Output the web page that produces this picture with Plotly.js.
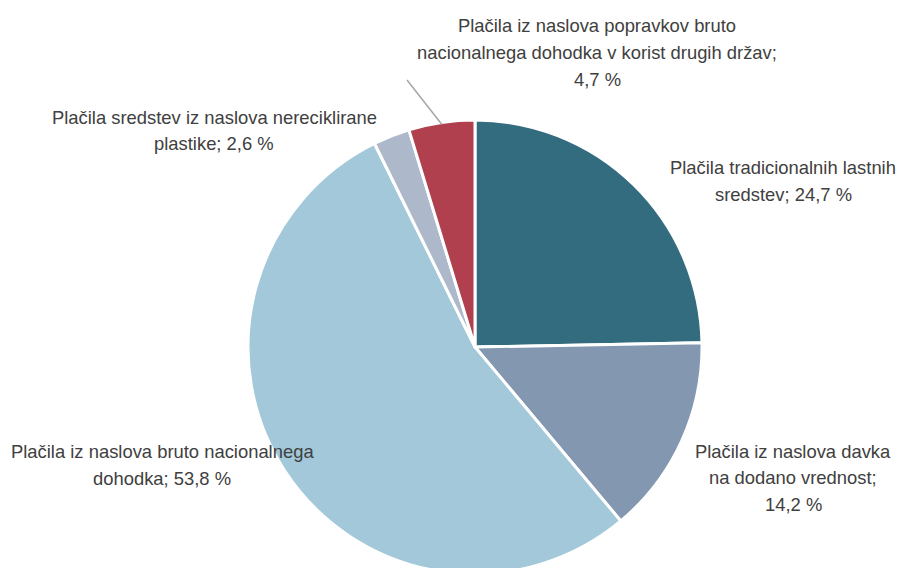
<!DOCTYPE html>
<html>
<head>
<meta charset="utf-8">
<script src="https://cdn.plot.ly/plotly-3.0.1.min.js"></script>
<style>
html,body{margin:0;padding:0;overflow:hidden;background:#fff;width:898px;height:568px;}
#chart{width:898px;height:800px;}
</style>
</head>
<body>
<div id="chart"></div>
<script>
// Data
const categories = [
  "Plačila tradicionalnih lastnih sredstev",
  "Plačila iz naslova davka na dodano vrednost",
  "Plačila iz naslova bruto nacionalnega dohodka",
  "Plačila sredstev iz naslova nereciklirane plastike",
  "Plačila iz naslova popravkov bruto nacionalnega dohodka v korist drugih držav"
];
const values = [24.7, 14.2, 53.8, 2.6, 4.7];
const labelLines = [
  ["Plačila tradicionalnih lastnih", "sredstev; 24,7 %"],
  ["Plačila iz naslova davka", "na dodano vrednost;", "14,2 %"],
  ["Plačila iz naslova bruto nacionalnega", "dohodka; 53,8 %"],
  ["Plačila sredstev iz naslova nereciklirane", "plastike; 2,6 %"],
  ["Plačila iz naslova popravkov bruto", "nacionalnega dohodka v korist drugih držav;", "4,7 %"]
];
const colors = ["#336b7f", "#8497b0", "#a2c8d9", "#adb9ca", "#b0404d"];

// Layout geometry (pixels)
const W = 898, H = 800;
const cx = 475, cy = 347, R = 227;
const labelPos = [ [783, 168], [793, 451], [162, 452], [214, 117], [597, 26] ];
const lineGap = 26.6;
const px = (x) => x / W;
const py = (y) => 1 - y / H;

const trace = {
  type: "pie",
  values: values,
  labels: categories,
  sort: false,
  direction: "clockwise",
  rotation: 0,
  textinfo: "none",
  hoverinfo: "label+percent",
  marker: { colors: colors, line: { color: "#ffffff", width: 3 } },
  domain: { x: [px(cx - R), px(cx + R)], y: [py(cy + R), py(cy - R)] },
  showlegend: false
};

const annotations = [];
labelLines.forEach((lines, i) => {
  lines.forEach((t, j) => {
    annotations.push({
      xref: "paper", yref: "paper",
      x: px(labelPos[i][0]), y: py(labelPos[i][1] + j * lineGap),
      xanchor: "center", yanchor: "middle",
      text: t, showarrow: false,
      font: { family: "'Liberation Sans', Arial, sans-serif", size: 18.4, color: "#404040" }
    });
  });
});

// leader line for the small red slice (from label to slice midpoint)
const total = values.reduce((a, b) => a + b, 0);
const startFrac = values.slice(0, 4).reduce((a, b) => a + b, 0) / total;
const midAng = 2 * Math.PI * (startFrac + values[4] / total / 2);
const ex = cx + (R - 2) * Math.sin(midAng), ey = cy - (R - 2) * Math.cos(midAng);

const layout = {
  width: W, height: H,
  margin: { l: 0, r: 0, t: 0, b: 0 },
  paper_bgcolor: "#ffffff",
  annotations: annotations,
  shapes: [{
    type: "line", xref: "paper", yref: "paper",
    x0: px(407), y0: py(80), x1: px(ex), y1: py(ey),
    line: { color: "#a6a6a6", width: 1.5 }
  }]
};

Plotly.newPlot("chart", [trace], layout, { displayModeBar: false, staticPlot: true });
</script>
</body>
</html>
